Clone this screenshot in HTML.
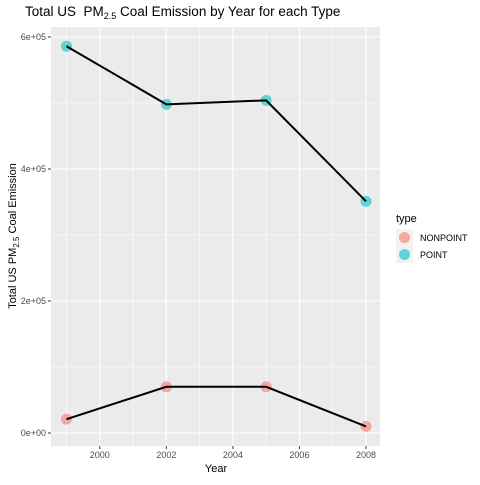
<!DOCTYPE html>
<html><head><meta charset="utf-8"><style>
body{margin:0;background:#fff;font-family:"Liberation Sans",sans-serif}
</style></head><body>
<svg id="c" width="480" height="480" xmlns="http://www.w3.org/2000/svg" font-family="Liberation Sans, sans-serif"></svg>
<script>
const years=[1999,2002,2005,2008];
const pointVals=[586000,498000,504000,351000];
const nonpointVals=[21000,70000,70000,10000];
const xTicks=[2000,2002,2004,2006,2008];
const yTicks=[0,200000,400000,600000];
const yLabels=["0e+00","2e+05","4e+05","6e+05"];
const NS="http://www.w3.org/2000/svg";
const svg=document.getElementById('c');
const L=51,R=380,T=27,B=446;
const xs=v=>66.5+(v-1999)*(366-66.5)/9;
const ys=v=>433-v*(433-37)/600000;
function mk(t,a,p){const e=document.createElementNS(NS,t);for(const k in a)e.setAttribute(k,a[k]);(p||svg).appendChild(e);return e;}
const bg=mk('rect',{x:L,y:T,width:R-L,height:B-T,fill:'#EBEBEB'});


for(let i=0;i<yTicks.length-1;i++){const v=(yTicks[i]+yTicks[i+1])/2;mk('line',{x1:L,x2:R,y1:ys(v),y2:ys(v),stroke:'#fff','stroke-width':0.6});}
for(let i=0;i<xTicks.length;i++){const v=xTicks[i]-1;mk('line',{x1:xs(v),x2:xs(v),y1:T,y2:B,stroke:'#fff','stroke-width':0.6});}
yTicks.forEach((v,i)=>{mk('line',{x1:L,x2:R,y1:ys(v),y2:ys(v),stroke:'#fff','stroke-width':1.1});
mk('line',{x1:L-3,x2:L,y1:ys(v),y2:ys(v),stroke:'#333'});
const t=mk('text',{x:L-5,y:ys(v)+3,'text-anchor':'end','font-size':9,fill:'#4D4D4D'});t.textContent=yLabels[i];

});
xTicks.forEach(v=>{mk('line',{x1:xs(v),x2:xs(v),y1:T,y2:B,stroke:'#fff','stroke-width':1.1});
mk('line',{x1:xs(v),x2:xs(v),y1:B,y2:B+3,stroke:'#333'});
const t=mk('text',{x:xs(v),y:B+12,'text-anchor':'middle','font-size':9,fill:'#4D4D4D'});t.textContent=v;

});
function series(vals,col,name){
const pts=years.map((y,i)=>xs(y)+','+ys(vals[i])).join(' ');
const g=mk('g',{});


years.forEach((y,i)=>{const c=mk('circle',{cx:xs(y),cy:ys(vals[i]),r:5.5,fill:col,'fill-opacity':0.6},g);

});
const l=mk('polyline',{points:pts,fill:'none',stroke:'#000','stroke-width':2},g);


}
series(nonpointVals,'#F8766D','nonpoint');
series(pointVals,'#00BFC4','point');
</script>
<svg width="480" height="480" style="position:absolute;left:0;top:0" font-family="Liberation Sans, sans-serif">
<text x="25" y="16" font-size="13.5" fill="#000">Total US&#160; PM<tspan font-size="9" dy="3">2.5</tspan><tspan dy="-3"> Coal Emission by Year for each Type</tspan></text>
<text x="216" y="472" text-anchor="middle" font-size="11">Year</text>
<text transform="translate(16,236) rotate(-90)" text-anchor="middle" font-size="11">Total US PM<tspan font-size="8" dy="3">2.5</tspan><tspan dy="-3"> Coal Emission</tspan></text>
<text x="396" y="222" font-size="11">type</text>
<rect x="396" y="229" width="17" height="34" fill="#F2F2F2"/>
<circle cx="404.5" cy="237.5" r="5.5" fill="#F8766D" fill-opacity="0.6"/>
<circle cx="404.5" cy="254.5" r="5.5" fill="#00BFC4" fill-opacity="0.6"/>
<text x="420" y="241" font-size="9">NONPOINT</text>
<text x="420" y="258" font-size="9">POINT</text>
</svg>
</body></html>
